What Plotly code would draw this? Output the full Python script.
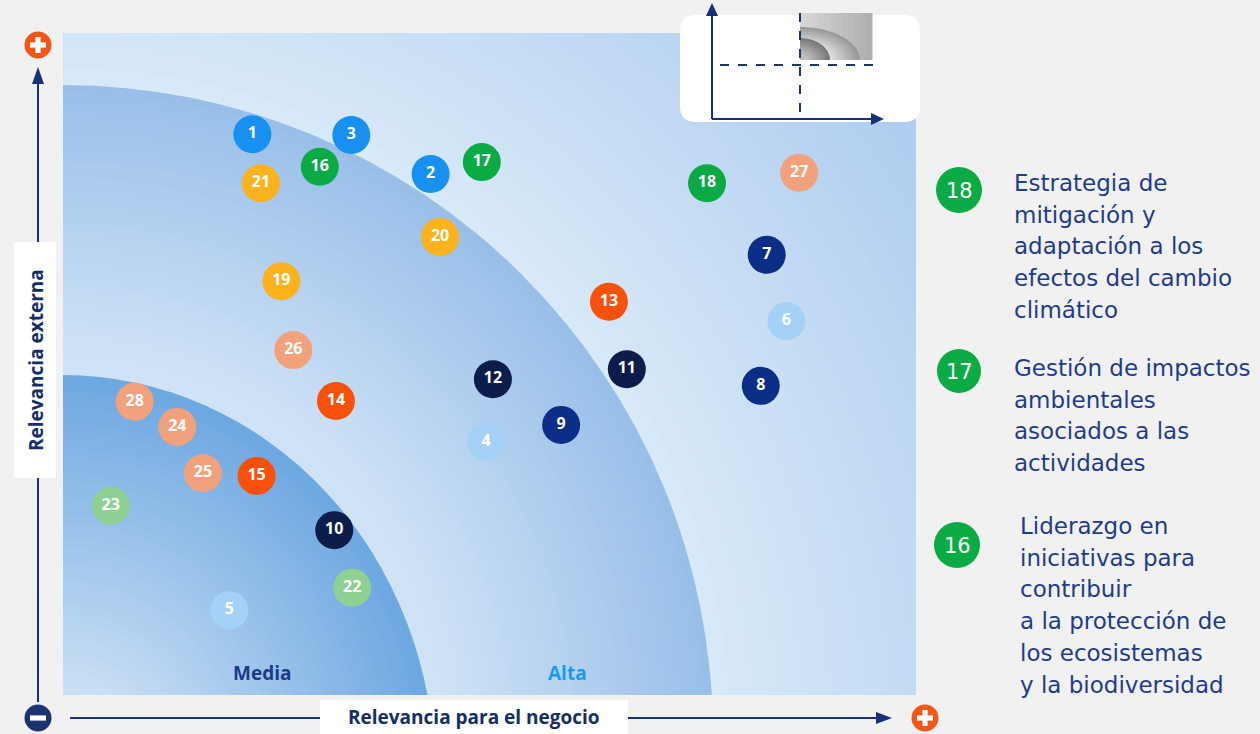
import math
import plotly.graph_objects as go

# ---------------- data ----------------
IDS = [str(i) for i in range(1, 29)]
NEGOCIO = [2.22, 4.31, 3.38, 4.96, 1.95, 8.48, 8.25, 8.18, 5.84, 3.18,
           6.61, 5.04, 6.40, 3.20, 2.27, 3.01, 4.91, 7.55, 2.56, 4.42,
           2.32, 3.39, 0.56, 1.34, 1.64, 2.70, 8.63, 0.84]
EXTERNA = [8.47, 7.87, 8.46, 3.82, 1.28, 5.65, 6.65, 4.67, 4.08, 2.49,
           4.92, 4.77, 5.94, 4.44, 3.31, 7.98, 8.05, 7.73, 6.25, 6.92,
           7.73, 1.62, 2.86, 4.05, 3.35, 5.21, 7.89, 4.43]
GROUP = [0, 0, 0, 1, 1, 1, 2, 2, 2, 3, 3, 3, 4, 4, 4, 5, 5, 5, 6, 6, 6,
         7, 7, 8, 8, 8, 8, 8]
GROUP_COLORS = ["#1790f0", "#a6d1f6", "#0c2e86", "#0c1d4b", "#f9510a",
                "#0aab45", "#fbb21d", "#8fd193", "#f2a17d"]

X_LABEL = "Relevancia para el negocio"
Y_LABEL = "Relevancia externa"
ZONE_LABELS = ["Media", "Alta"]

LEGEND_IDS = ["18", "17", "16"]
LEGEND_LINES = [
    ["Estrategia de", "mitigación y", "adaptación a los",
     "efectos del cambio", "climático"],
    ["Gestión de impactos", "ambientales", "asociados a las", "actividades"],
    ["Liderazgo en", "iniciativas para", "contribuir",
     "a la protección de", "los ecosistemas", "y la biodiversidad"],
]

# ---------------- geometry helpers ----------------
W, H = 1260, 734
L, R, T, B = 63, 916, 33, 695
PW, PH = R - L, B - T
XMAX, YMAX = 10.0, 10.0
PXX, PXY = XMAX / PW, YMAX / PH


def px(x):
    return (x - L) / PW


def py(y):
    return (B - y) / PH


def hexmix(c1, c2, t):
    a = [int(c1[i:i + 2], 16) for i in (1, 3, 5)]
    b = [int(c2[i:i + 2], 16) for i in (1, 3, 5)]
    return "#%02x%02x%02x" % tuple(round(a[i] + (b[i] - a[i]) * t) for i in range(3))


shapes = []


def ring_set(cx, cy, rx, ry, s_from, s_to, c_from, c_to, n):
    for k in range(n):
        t = k / (n - 1) if n > 1 else 0
        s = s_from + (s_to - s_from) * t
        shapes.append(dict(type="circle", xref="x", yref="y", layer="below",
                           x0=cx - rx * s, x1=cx + rx * s,
                           y0=cy - ry * s, y1=cy + ry * s,
                           fillcolor=hexmix(c_from, c_to, t),
                           line=dict(width=0)))


# outer region (beyond outer arc)
OC = (0.0, -40 * PXY)
ring_set(OC[0], OC[1], PXX, PXY, 1130, 655, "#a6c7ed", "#d8e9f8", 40)
# middle band
ring_set(OC[0], OC[1], PXX, PXY, 650, 380, "#99bfe9", "#d0e3f6", 36)
# inner band
IC = (0.0, -80 * PXY)
ring_set(IC[0], IC[1], 372 * PXX, 400 * PXY, 1.0, 0.2, "#6ea8e1", "#cde1f5", 40)


def pline(x0, y0, x1, y1, color, width, dash="solid"):
    shapes.append(dict(type="line", xref="paper", yref="paper", layer="above",
                       x0=px(x0), y0=py(y0), x1=px(x1), y1=py(y1),
                       line=dict(color=color, width=width, dash=dash)))


def ppoly(pts, color):
    d = "M " + " L ".join("%f,%f" % (px(a), py(b)) for a, b in pts) + " Z"
    shapes.append(dict(type="path", xref="paper", yref="paper", layer="above",
                       path=d, fillcolor=color, line=dict(width=0)))


def prect(x0, y0, x1, y1, color):
    shapes.append(dict(type="rect", xref="paper", yref="paper", layer="above",
                       x0=px(x0), y0=py(y0), x1=px(x1), y1=py(y1),
                       fillcolor=color, line=dict(width=0)))


def pcircle(cx, cy, r, color):
    shapes.append(dict(type="circle", xref="paper", yref="paper", layer="above",
                       x0=px(cx - r), x1=px(cx + r), y0=py(cy + r), y1=py(cy - r),
                       fillcolor=color, line=dict(width=0)))


def pquarter(cx, cy, rx, ry, color):
    pts = [(cx, cy)]
    for i in range(0, 25):
        a = math.pi / 2 * i / 24
        pts.append((cx + rx * math.cos(a), cy - ry * math.sin(a)))
    ppoly(pts, color)


def rounded_rect(x0, y0, x1, y1, r, color):
    d = ("M %f,%f L %f,%f Q %f,%f %f,%f L %f,%f Q %f,%f %f,%f "
         "L %f,%f Q %f,%f %f,%f L %f,%f Q %f,%f %f,%f Z") % (
        px(x0 + r), py(y0), px(x1 - r), py(y0), px(x1), py(y0), px(x1), py(y0 + r),
        px(x1), py(y1 - r), px(x1), py(y1), px(x1 - r), py(y1),
        px(x0 + r), py(y1), px(x0), py(y1), px(x0), py(y1 - r),
        px(x0), py(y0 + r), px(x0), py(y0), px(x0 + r), py(y0))
    shapes.append(dict(type="path", xref="paper", yref="paper", layer="above",
                       path=d, fillcolor=color, line=dict(width=0)))


NAVY = "#17307a"
ORANGE = "#f4561a"

# main axes arrows
pline(38, 702, 38, 80, NAVY, 2)
ppoly([(38, 67), (32, 84), (44, 84)], NAVY)
pline(70, 718, 880, 718, NAVY, 2)
ppoly([(892, 718), (876, 712), (876, 724)], NAVY)

# plus / minus buttons
for cx, cy in [(38, 45), (925, 718)]:
    pcircle(cx, cy, 13.5, ORANGE)
    prect(cx - 8, cy - 2.6, cx + 8, cy + 2.6, "white")
    prect(cx - 2.6, cy - 8, cx + 2.6, cy + 8, "white")
pcircle(38, 718, 13.5, "#1b3471")
prect(30, 715.4, 46, 720.6, "white")

# label boxes
prect(320, 700, 628, 734, "white")
prect(14, 242, 56, 478, "white")

# inset
rounded_rect(680, 15, 920, 122, 16, "white")
NSTR = 12
for k in range(NSTR):
    x0 = 800 + 72 * k / NSTR
    prect(x0, 13, x0 + 72 / NSTR + 0.5, 60, hexmix("#d6d6d6", "#b0b0b0", k / (NSTR - 1)))
NB = 10
for k in range(NB):
    t = k / (NB - 1)
    s = 1.0 - 0.5 * t
    pquarter(800, 60, 60 * s, 33 * s, hexmix("#9a9a9a", "#e6e6e6", t))
for k in range(NB):
    t = k / (NB - 1)
    s = 1.0 - 0.7 * t
    pquarter(800, 60, 30 * s, 22 * s, hexmix("#7a7a7a", "#bdbdbd", t))
pline(720, 65, 882, 65, "#1d3670", 2, "dash")
pline(800, 13, 800, 119, "#1d3670", 2, "dash")
pline(712, 119, 712, 14, NAVY, 2)
ppoly([(712, 3), (706, 16), (718, 16)], NAVY)
pline(712, 119, 872, 119, NAVY, 2)
ppoly([(884, 119), (871, 113), (871, 125)], NAVY)

# legend circles
LEG_CIRCLES = [(959, 190, 23), (959, 371, 22), (957, 545, 23)]
for cx, cy, r in LEG_CIRCLES:
    pcircle(cx, cy, r, "#0aab45")

annotations = []


def ptext(x, y, text, size, color, family="Open Sans", weight="normal",
          xanchor="center", angle=0):
    annotations.append(dict(xref="paper", yref="paper", x=px(x), y=py(y),
                            text=text, showarrow=False, xanchor=xanchor,
                            yanchor="middle", textangle=angle, borderpad=0,
                            font=dict(size=size, color=color, family=family,
                                      weight=weight)))


ptext(474, 717, X_LABEL, 19, "#142d6b", weight="bold")
ptext(36, 360, Y_LABEL, 19, "#142d6b", weight="bold", angle=-90)
ptext(262, 673, ZONE_LABELS[0], 19, "#1b3a8a", weight="bold")
ptext(567, 673, ZONE_LABELS[1], 19, "#1a9af2", weight="bold")

LEG_TEXT_X = [1013, 1013, 1019]
LEG_TEXT_Y0 = [183, 368, 526]
LINE_STEP = 31.7
for i, lid in enumerate(LEGEND_IDS):
    cx, cy, r = LEG_CIRCLES[i]
    ptext(cx, cy + 1, lid, 21, "white", family="DejaVu Sans")
    for j, line in enumerate(LEGEND_LINES[i]):
        ptext(LEG_TEXT_X[i], LEG_TEXT_Y0[i] + j * LINE_STEP, line, 23, "#1d3c8f",
              family="DejaVu Sans", xanchor="left")

fig = go.Figure()
fig.add_trace(go.Scatter(
    x=NEGOCIO, y=EXTERNA, text=IDS, mode="markers+text",
    marker=dict(size=38, color=[GROUP_COLORS[g] for g in GROUP], line=dict(width=0),
                opacity=1),
    textposition="middle center",
    textfont=dict(family="Open Sans", size=16, color="white", weight="bold"),
    hoverinfo="skip", showlegend=False, cliponaxis=False))

fig.update_layout(
    width=W, height=H, autosize=False,
    margin=dict(l=L, r=W - R, t=T, b=H - B, pad=0),
    paper_bgcolor="#f1f1f1", plot_bgcolor="#a6c7ed",
    xaxis=dict(range=[0, XMAX], visible=False, fixedrange=True),
    yaxis=dict(range=[0, YMAX], visible=False, fixedrange=True),
    shapes=shapes, annotations=annotations, showlegend=False,
)

fig.write_html("out.html", config=dict(displayModeBar=False))
